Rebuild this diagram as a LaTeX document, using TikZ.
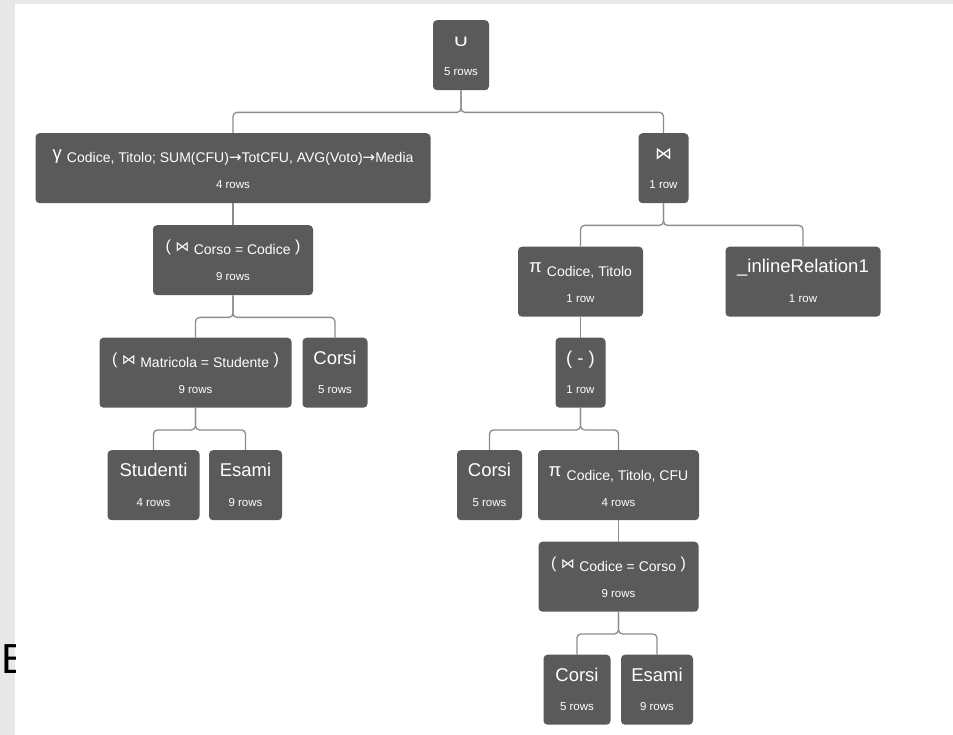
\documentclass[tikz,border=0pt]{standalone}
\usepackage{graphicx}
\usepackage{fontspec}
\setmainfont{Liberation Sans}
\newfontfamily\opsymfont{DejaVu Sans}
\definecolor{boxgray}{HTML}{5A5A5A}
\definecolor{linkgray}{HTML}{8C8C8C}
\definecolor{framegray}{HTML}{E8E8E8}
\newcommand{\pxsize}[1]{\fontsize{#1}{#1}\selectfont}
\newcommand{\opsub}[1]{\raisebox{-3.5pt}{\pxsize{14}#1}}
\newcommand{\oparrow}{{\opsymfont\pxsize{15}→}}

\begin{document}
\begin{tikzpicture}[x=1pt, y=-1pt,
  opbox/.style={fill=boxgray, rounded corners=4pt, minimum height=70pt, inner sep=0pt, anchor=north},
  optitle/.style={text=white, anchor=base, inner sep=0pt, font=\pxsize{18.5}},
  oprows/.style={text=white, anchor=base, inner sep=0pt, font=\pxsize{11.5}},
  link/.style={draw=linkgray, line width=1.3pt, rounded corners=4pt}]
% Rahmen:
\fill[white] (0,0) rectangle (953,735);
\fill[framegray] (0,0) rectangle (15,735);
\fill[framegray] (0,0) rectangle (953,4);
\useasboundingbox (0,0) rectangle (953,735);
\begin{scope}
\clip (0,0) rectangle (15,735);
\node[anchor=base west, inner sep=0pt, font=\pxsize{42}] (cut) at (1,673) {E};
\end{scope}
% Wurzel:
\node[opbox, minimum width=56pt] (un) at (461,20) {};
\node[optitle] (un-t) at ([yshift=-26.5pt]un.north) {\opsymfont\pxsize{17}\scalebox{1.35}[0.95]{∪}};
\node[oprows] (un-r) at ([yshift=-56pt]un.north) {5 rows};
% Linker Ast:
\node[opbox, minimum width=395pt] (ga) at (233,133) {};
\node[optitle] (ga-t) at ([yshift=-26.5pt]ga.north) {γ \opsub{Codice, Titolo; SUM(CFU)\oparrow TotCFU, AVG(Voto)\oparrow Media}};
\node[oprows] (ga-r) at ([yshift=-56pt]ga.north) {4 rows};
\node[opbox, minimum width=160pt] (jc) at (233,225) {};
\node[optitle] (jc-t) at ([yshift=-26.5pt]jc.north) {\pxsize{16}( {\opsymfont\pxsize{14}⋈} \opsub{Corso = Codice} )};
\node[oprows] (jc-r) at ([yshift=-56pt]jc.north) {9 rows};
\node[opbox, minimum width=192pt] (jm) at (195.5,337.5) {};
\node[optitle] (jm-t) at ([yshift=-26.5pt]jm.north) {\pxsize{16}( {\opsymfont\pxsize{14}⋈} \opsub{Matricola = Studente} )};
\node[oprows] (jm-r) at ([yshift=-56pt]jm.north) {9 rows};
\node[opbox, minimum width=65pt] (co1) at (335,337.5) {};
\node[optitle] (co1-t) at ([yshift=-26.5pt]co1.north) {Corsi};
\node[oprows] (co1-r) at ([yshift=-56pt]co1.north) {5 rows};
\node[opbox, minimum width=92pt] (st) at (153.5,450) {};
\node[optitle] (st-t) at ([yshift=-26.5pt]st.north) {Studenti};
\node[oprows] (st-r) at ([yshift=-56pt]st.north) {4 rows};
\node[opbox, minimum width=73pt] (es1) at (245.5,450) {};
\node[optitle] (es1-t) at ([yshift=-26.5pt]es1.north) {Esami};
\node[oprows] (es1-r) at ([yshift=-56pt]es1.north) {9 rows};
% Rechter Ast:
\node[opbox, minimum width=50pt] (jn) at (663.5,133) {};
\node[optitle] (jn-t) at ([yshift=-26.5pt]jn.north) {\opsymfont\pxsize{17}⋈};
\node[oprows] (jn-r) at ([yshift=-56pt]jn.north) {1 row};
\node[opbox, minimum width=125pt] (pr1) at (580.5,246.5) {};
\node[optitle] (pr1-t) at ([yshift=-26.5pt]pr1.north) {π \opsub{Codice, Titolo}};
\node[oprows] (pr1-r) at ([yshift=-56pt]pr1.north) {1 row};
\node[opbox, minimum width=155pt] (inl) at (803,246.5) {};
\node[optitle] (inl-t) at ([yshift=-26.5pt]inl.north) {\_inlineRelation1};
\node[oprows] (inl-r) at ([yshift=-56pt]inl.north) {1 row};
\node[opbox, minimum width=50pt] (mi) at (580.5,337.5) {};
\node[optitle] (mi-t) at ([yshift=-26.5pt]mi.north) {( - )};
\node[oprows] (mi-r) at ([yshift=-56pt]mi.north) {1 row};
\node[opbox, minimum width=65pt] (co2) at (489.5,450) {};
\node[optitle] (co2-t) at ([yshift=-26.5pt]co2.north) {Corsi};
\node[oprows] (co2-r) at ([yshift=-56pt]co2.north) {5 rows};
\node[opbox, minimum width=161pt] (pr2) at (618.5,450) {};
\node[optitle] (pr2-t) at ([yshift=-26.5pt]pr2.north) {π \opsub{Codice, Titolo, CFU}};
\node[oprows] (pr2-r) at ([yshift=-56pt]pr2.north) {4 rows};
\node[opbox, minimum width=160pt] (jk) at (618.5,541.5) {};
\node[optitle] (jk-t) at ([yshift=-26.5pt]jk.north) {\pxsize{16}( {\opsymfont\pxsize{14}⋈} \opsub{Codice = Corso} )};
\node[oprows] (jk-r) at ([yshift=-56pt]jk.north) {9 rows};
\node[opbox, minimum width=67pt] (co3) at (577,654.5) {};
\node[optitle] (co3-t) at ([yshift=-26.5pt]co3.north) {Corsi};
\node[oprows] (co3-r) at ([yshift=-56pt]co3.north) {5 rows};
\node[opbox, minimum width=72pt] (es2) at (657,654.5) {};
\node[optitle] (es2-t) at ([yshift=-26.5pt]es2.north) {Esami};
\node[oprows] (es2-r) at ([yshift=-56pt]es2.north) {9 rows};
% Verbindungen:
\draw[link] (un.south) -- ++(0,22) -| (ga.north);
\draw[link] (un.south) -- ++(0,22) -| (jn.north);
\draw[link] (ga.south) -- (jc.north);
\draw[link] (jc.south) -- ++(0,22) -| (jm.north);
\draw[link] (jc.south) -- ++(0,22) -| (co1.north);
\draw[link] (jm.south) -- ++(0,22) -| (st.north);
\draw[link] (jm.south) -- ++(0,22) -| (es1.north);
\draw[link] (jn.south) -- ++(0,22) -| (pr1.north);
\draw[link] (jn.south) -- ++(0,22) -| (inl.north);
\draw[link] (pr1.south) -- (mi.north);
\draw[link] (mi.south) -- ++(0,22) -| (co2.north);
\draw[link] (mi.south) -- ++(0,22) -| (pr2.north);
\draw[link] (pr2.south) -- (jk.north);
\draw[link] (jk.south) -- ++(0,22) -| (co3.north);
\draw[link] (jk.south) -- ++(0,22) -| (es2.north);
\end{tikzpicture}
\end{document}
